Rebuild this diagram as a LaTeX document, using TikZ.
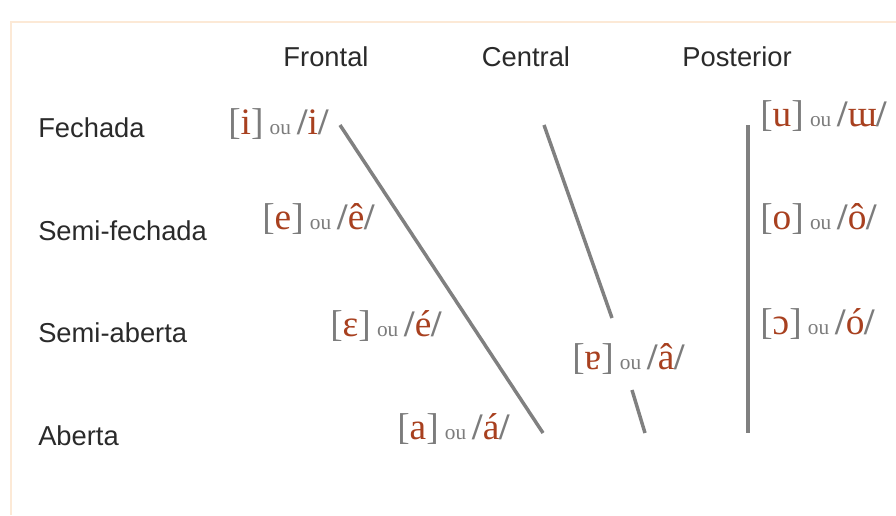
\documentclass[tikz,border=0pt]{standalone}
\usepackage{fontspec}
\setmainfont{Liberation Serif}
\newfontfamily\hdrfont{Liberation Sans}
\definecolor{vred}{HTML}{A8401F}
\definecolor{vgray}{HTML}{7C7C7C}
\definecolor{lgray}{HTML}{808080}
\definecolor{bord}{HTML}{FCE9D6}
\definecolor{txt}{HTML}{2A2A2A}
\newcommand{\vw}[2]{{\color{vgray}[}{\color{vred}#1}{\color{vgray}]}\,{\fontsize{16}{16}\selectfont\color{vgray}ou}\,{\color{vgray}\bfseries/}{\color{vred}#2}{\color{vgray}\bfseries/}}
\begin{document}
\begin{tikzpicture}[x=0.75pt,y=-0.75pt,
  hdr/.style={font=\hdrfont\fontsize{20.5}{20.5}\selectfont, text=txt, inner sep=0},
  rowlab/.style={font=\hdrfont\fontsize{20.5}{20.5}\selectfont, text=txt, anchor=west, inner sep=0},
  vowel/.style={font=\fontsize{28}{28}\selectfont, anchor=west, inner sep=0},
  tongue/.style={draw=lgray, line width=2.6pt}]
\useasboundingbox (0,0) rectangle (896,515);
\fill[white] (0,0) rectangle (896,515);
\coordinate (b1) at (11,515);
\coordinate (b2) at (11,22);
\coordinate (b3) at (896,22);
\draw[bord, line width=1.2pt] (b1) -- (b2) -- (b3);
% headers
\node[hdr] (frontal) at (326,57) {Frontal};
\node[hdr] (central) at (526,57) {Central};
\node[hdr] (posterior) at (737,57) {Posterior};
% row labels
\node[rowlab] (fechada) at (38,128) {Fechada};
\node[rowlab] (semifechada) at (38,231) {Semi-fechada};
\node[rowlab] (semiaberta) at (38,333) {Semi-aberta};
\node[rowlab] (aberta) at (38,436) {Aberta};
% vowels
\node[vowel] (vi) at (228,124) {\vw{i}{i}};
\node[vowel] (ve) at (262,219) {\vw{e}{ê}};
\node[vowel] (veps) at (330,326) {\vw{ɛ}{é}};
\node[vowel] (va) at (397,429) {\vw{a}{á}};
\node[vowel] (vtu) at (572,359) {\vw{ɐ}{â}};
\node[vowel] (vu) at (760,116) {\vw{u}{ɯ}};
\node[vowel] (vo) at (760,219) {\vw{o}{ô}};
\node[vowel] (vopen) at (760,324) {\vw{ɔ}{ó}};
% lines
\coordinate (f1) at (340,125);
\coordinate (f2) at (543,433);
\coordinate (c1) at (544,125);
\coordinate (c2) at (612,318);
\coordinate (c3) at (632,390);
\coordinate (c4) at (645,433);
\coordinate (p1) at (748,125);
\coordinate (p2) at (748,433);
\draw[tongue] (f1) -- (f2);
\draw[tongue] (c1) -- (c2);
\draw[tongue] (c3) -- (c4);
\draw[tongue] (p1) -- (p2);
\end{tikzpicture}
\end{document}
